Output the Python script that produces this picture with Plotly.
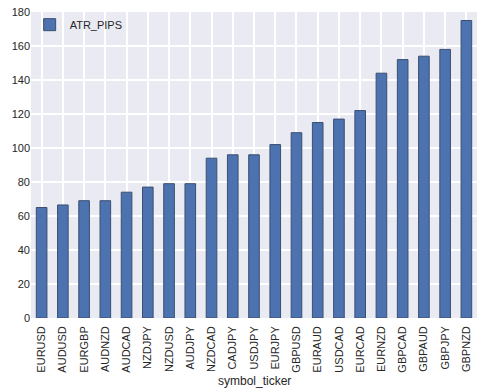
import plotly.graph_objects as go

symbols = ["EURUSD", "AUDUSD", "EURGBP", "AUDNZD", "AUDCAD", "NZDJPY", "NZDUSD",
           "AUDJPY", "NZDCAD", "CADJPY", "USDJPY", "EURJPY", "GBPUSD", "EURAUD",
           "USDCAD", "EURCAD", "EURNZD", "GBPCAD", "GBPAUD", "GBPJPY", "GBPNZD"]
atr_pips = [65, 66.5, 69, 69, 74, 77, 79, 79, 94, 96, 96, 102, 109, 115,
            117, 122, 144, 152, 154, 158, 175]
y_ticks = [0, 20, 40, 60, 80, 100, 120, 140, 160, 180]

positions = list(range(len(symbols)))

fig = go.Figure()
fig.add_trace(go.Bar(
    x=positions, y=atr_pips, name="ATR_PIPS",
    marker=dict(color="#4C72B0", line=dict(color="#3a4f70", width=1)),
    width=0.5, showlegend=True,
))

font = "Liberation Sans, Arial, sans-serif"
fig.update_layout(
    width=484, height=389,
    margin=dict(l=31, r=7, t=12, b=71, autoexpand=False),
    paper_bgcolor="white", plot_bgcolor="#EAEAF2",
    font=dict(family=font, size=11, color="#262626"),
    showlegend=True,
    legend=dict(x=-0.003, y=1.006, xanchor="left", yanchor="top",
                bgcolor="rgba(0,0,0,0)", font=dict(size=11, color="#262626")),
    xaxis=dict(
        tickmode="array", tickvals=positions, ticktext=symbols,
        tickangle=-90, showgrid=True, gridcolor="white",
        gridwidth=1.5, ticks="", zeroline=False, showline=False, automargin=False,
        range=[-0.5, len(symbols) - 0.5], ticklabelstandoff=5,
        tickfont=dict(size=11, color="#262626"),
    ),
    yaxis=dict(
        range=[0, 180], tickvals=y_ticks, showgrid=True, gridcolor="white",
        gridwidth=1.5, ticks="", zeroline=False, showline=False, automargin=False,
        tickfont=dict(size=11, color="#262626"),
    ),
    annotations=[dict(text="symbol_ticker", x=0.5, y=-0.206, xref="paper", yref="paper",
                      xanchor="center", yanchor="middle", showarrow=False,
                      font=dict(size=12, color="#262626"))],
)

fig.write_html("out.html", config={"displayModeBar": False},
               post_script="document.body.style.margin='0';document.body.style.overflow='hidden';")
